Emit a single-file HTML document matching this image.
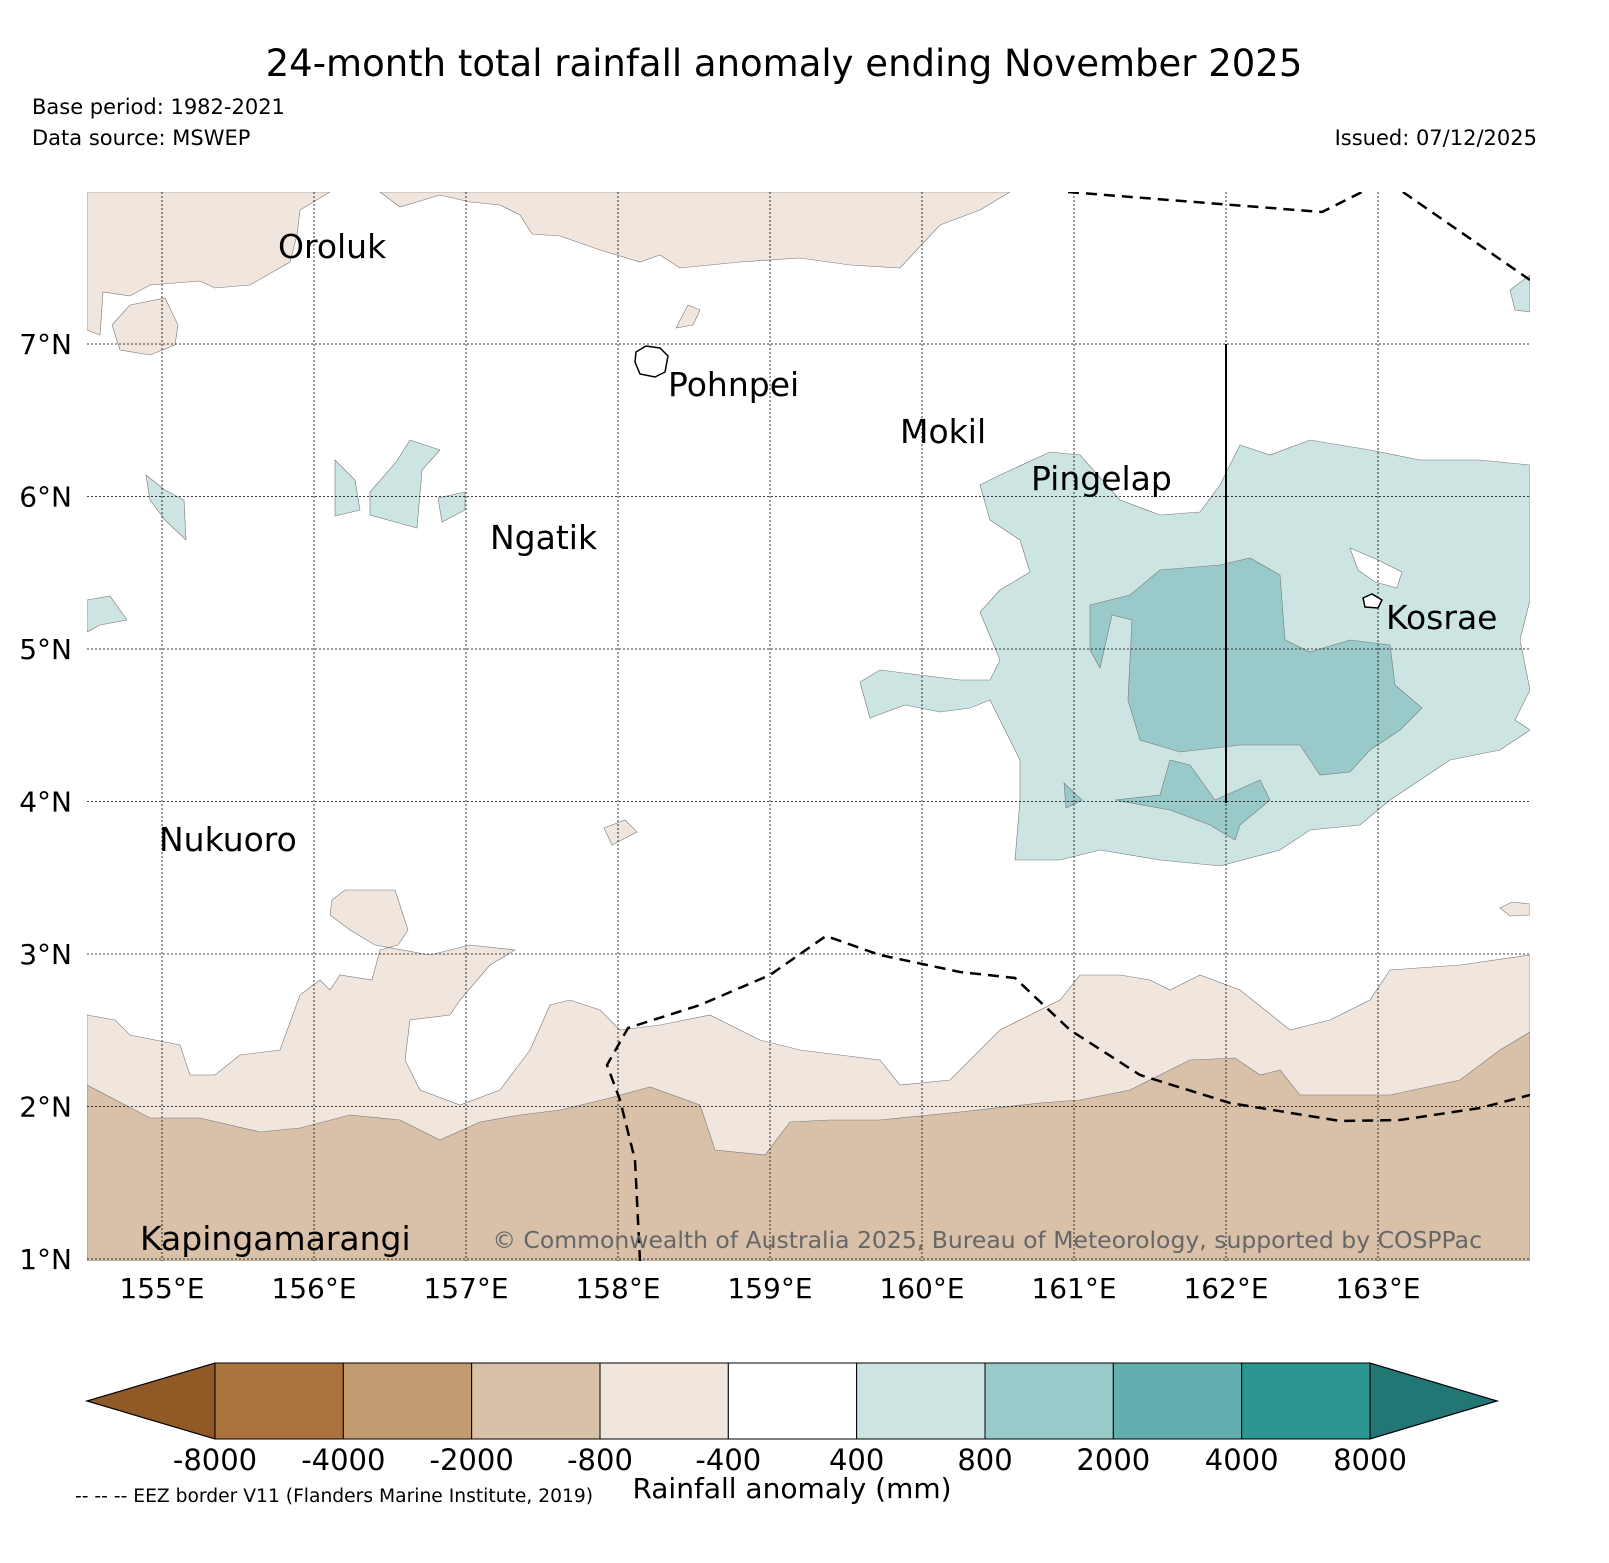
<!DOCTYPE html>
<html><head><meta charset="utf-8">
<style>
html,body{margin:0;padding:0;background:#fff;}
body{width:1609px;height:1563px;position:relative;overflow:hidden;font-family:"DejaVu Sans","Liberation Sans",sans-serif;}
svg{position:absolute;left:0;top:0;}
</style></head>
<body>
<svg id="chart" width="1609" height="1563" viewBox="0 0 1609 1563" font-family="DejaVu Sans, Liberation Sans, sans-serif">
<text x="784" y="76" font-size="37" text-anchor="middle">24-month total rainfall anomaly ending November 2025</text>
<text x="32" y="114" font-size="21">Base period: 1982-2021</text>
<text x="32" y="145" font-size="21">Data source: MSWEP</text>
<text x="1537" y="145" font-size="21" text-anchor="end">Issued: 07/12/2025</text>
<defs><clipPath id="mapclip"><rect x="87" y="192" width="1443" height="1069"/></clipPath></defs>
<g id="map" clip-path="url(#mapclip)">
<g stroke="#777" stroke-width="0.6">
<path fill="#f0e6de" d="M87,192 L87,330 L100,335 L103,292 L130,296 L150,285 L200,281 L215,288 L250,285 L290,262 L297,235 L300,210 L330,192 Z"/>
<path fill="#f0e6de" d="M380,192 L400,207 L440,195 L470,202 L500,205 L520,215 L532,234 L560,236 L600,250 L640,262 L660,255 L680,268 L740,262 L800,258 L850,265 L900,268 L940,225 L980,210 L1010,192 Z"/>
<path fill="#f0e6de" d="M112,325 L130,305 L165,298 L178,325 L175,345 L150,355 L120,350 Z"/>
<path fill="#f0e6de" d="M676,328 L688,305 L700,310 L693,325 Z"/>
<path fill="#f0e6de" d="M604,828 L625,820 L637,832 L612,845 Z"/>
<path fill="#f0e6de" d="M1500,908 L1512,902 L1530,904 L1530,915 L1510,916 Z"/>
<path fill="#f0e6de" d="M87,1015 L115,1020 L130,1035 L180,1045 L190,1075 L215,1075 L240,1055 L280,1050 L300,995 L320,980 L330,990 L340,975 L372,980 L380,950 L398,945 L408,930 L395,890 L345,890 L332,900 L330,915 L350,930 L375,945 L430,955 L470,945 L515,950 L490,965 L460,1000 L450,1015 L410,1020 L405,1060 L420,1090 L460,1105 L500,1090 L530,1050 L550,1005 L570,1000 L600,1010 L620,1030 L660,1025 L710,1015 L760,1040 L800,1050 L880,1060 L900,1085 L950,1080 L1000,1030 L1060,1000 L1080,975 L1120,975 L1150,980 L1170,990 L1200,975 L1240,990 L1290,1030 L1330,1020 L1370,1000 L1390,970 L1460,965 L1530,955 L1530,1261 L87,1261 Z"/>
<path fill="#d9c1a9" d="M87,1085 L150,1118 L200,1118 L260,1132 L300,1128 L350,1115 L400,1120 L440,1140 L480,1122 L520,1115 L560,1110 L610,1098 L650,1087 L700,1105 L715,1150 L765,1155 L790,1122 L830,1120 L880,1120 L960,1112 L1040,1103 L1080,1100 L1130,1090 L1190,1060 L1235,1058 L1260,1075 L1280,1070 L1300,1095 L1390,1095 L1460,1080 L1500,1050 L1530,1032 L1530,1261 L87,1261 Z"/>
<path fill="#cce5e3" d="M980,485 L1000,475 L1050,452 L1080,455 L1120,500 L1160,515 L1200,512 L1220,485 L1240,445 L1270,455 L1310,440 L1370,450 L1420,460 L1480,460 L1530,465 L1530,600 L1520,640 L1530,690 L1515,720 L1530,730 L1500,750 L1450,760 L1420,780 L1390,800 L1360,825 L1310,830 L1280,850 L1220,866 L1160,860 L1100,850 L1060,860 L1015,860 L1020,800 L1020,760 L1000,720 L990,700 L970,708 L940,712 L905,705 L870,718 L860,682 L880,670 L920,675 L960,680 L990,680 L1000,660 L980,612 L1000,590 L1030,572 L1020,540 L990,520 Z"/>
<path fill="#99cac9" d="M1090,605 L1130,595 L1160,570 L1220,565 L1250,558 L1280,575 L1285,640 L1310,652 L1350,640 L1390,645 L1395,685 L1422,708 L1400,730 L1370,750 L1350,772 L1320,775 L1300,745 L1240,745 L1180,752 L1140,740 L1128,700 L1132,620 L1112,615 L1100,668 L1090,650 Z"/>
<path fill="#99cac9" d="M1115,800 L1160,795 L1170,760 L1190,765 L1215,800 L1260,780 L1270,800 L1240,825 L1235,840 L1210,825 L1170,810 Z"/>
<path fill="#99cac9" d="M1064,783 L1082,800 L1066,808 Z"/>
<path fill="#fff" d="M1350,548 L1378,560 L1402,572 L1397,588 L1375,582 L1358,570 Z"/>
<path fill="#cce5e3" d="M146,475 L165,490 L184,500 L186,540 L165,520 L150,500 Z"/>
<path fill="#cce5e3" d="M335,460 L355,480 L360,510 L335,516 Z"/>
<path fill="#cce5e3" d="M370,492 L396,462 L410,440 L440,450 L422,470 L417,528 L395,522 L370,515 Z"/>
<path fill="#cce5e3" d="M438,498 L465,492 L465,510 L442,522 Z"/>
<path fill="#cce5e3" d="M87,600 L110,596 L127,620 L100,625 L87,632 Z"/>
<path fill="#cce5e3" d="M1510,290 L1530,275 L1530,312 L1515,310 Z"/>
</g>
<g id="grid"></g>
<path d="M1068,192 L1220,204 L1322,212 L1370,188 L1400,190 L1530,280" fill="none" stroke="#000" stroke-width="2.5" stroke-dasharray="11,7"/>
<path d="M640,1261 L635,1160 L620,1100 L607,1065 L628,1028 L700,1005 L770,975 L826,936 L880,955 L960,972 L1015,978 L1070,1030 L1140,1075 L1230,1103 L1340,1121 L1400,1120 L1480,1108 L1530,1095" fill="none" stroke="#000" stroke-width="2.5" stroke-dasharray="11,7"/>
<line x1="1226" y1="344" x2="1226" y2="803" stroke="#000" stroke-width="2"/>
<path d="M636,352 L646,346 L660,348 L668,356 L665,372 L655,377 L640,374 L635,362 Z" fill="#fff" stroke="#000" stroke-width="1.5"/>
<path d="M1363,598 L1372,594 L1382,600 L1378,608 L1365,607 Z" fill="#fff" stroke="#000" stroke-width="1.5"/>
<g font-size="33" fill="#000">
<text x="278" y="258">Oroluk</text>
<text x="668" y="396">Pohnpei</text>
<text x="900" y="443">Mokil</text>
<text x="1031" y="490">Pingelap</text>
<text x="490" y="549">Ngatik</text>
<text x="1386" y="629">Kosrae</text>
<text x="159" y="851">Nukuoro</text>
<text x="140" y="1250">Kapingamarangi</text>
</g>
<text x="1482" y="1248" font-size="23.5" fill="#666" text-anchor="end">© Commonwealth of Australia 2025, Bureau of Meteorology, supported by COSPPac</text>
</g>
<g id="ticks"></g>
<g id="cbar"></g>
<text x="792" y="1498" font-size="28" text-anchor="middle">Rainfall anomaly (mm)</text>
<text x="75" y="1502" font-size="18.7">-- -- -- EEZ border V11 (Flanders Marine Institute, 2019)</text>
</svg>
<script>
const lonTicks=[155,156,157,158,159,160,161,162,163];
const latTicks=[1,2,3,4,5,6,7];
const cbarBounds=[-8000,-4000,-2000,-800,-400,400,800,2000,4000,8000];
const cbarColors=["#ab743e","#c29a6f","#d9c1a9","#f0e6de","#ffffff","#cce5e3","#99cac9","#63aeae","#2e9692"];
const cbarExtendColors=["#8f5a26","#227674"];
const NS="http://www.w3.org/2000/svg";
const xLon=l=>162+(l-155)*152.0;
const yLat=l=>344+(7-l)*152.5;
function mk(tag,attrs,parent){const e=document.createElementNS(NS,tag);for(const k in attrs)e.setAttribute(k,attrs[k]);parent.appendChild(e);return e;}
const grid=document.getElementById('grid'),ticks=document.getElementById('ticks');
lonTicks.forEach(l=>{
  const g=mk('line',{x1:xLon(l),x2:xLon(l),y1:192,y2:1261,stroke:'#000','stroke-width':0.8,'stroke-dasharray':'2,2'},grid);
  
  
  const t=mk('text',{x:xLon(l),y:1298,'font-size':28,'text-anchor':'middle'},ticks);
  t.textContent=l+'°E';
  
  
});
latTicks.forEach(l=>{
  const g=mk('line',{x1:87,x2:1530,y1:yLat(l),y2:yLat(l),stroke:'#000','stroke-width':0.8,'stroke-dasharray':'2,2'},grid);
  
  
  const t=mk('text',{x:72,y:yLat(l)+10,'font-size':28,'text-anchor':'end'},ticks);
  t.textContent=l+'°N';
  
  
});
const cb=document.getElementById('cbar');
const cx0=215,cw=(1370-215)/cbarColors.length,cy0=1363,cy1=1439;
const lt=mk('polygon',{points:`87,${(cy0+cy1)/2} ${cx0},${cy0} ${cx0},${cy1}`,fill:cbarExtendColors[0],stroke:'#000','stroke-width':1.2},cb);


const rt=mk('polygon',{points:`1497,${(cy0+cy1)/2} 1370,${cy0} 1370,${cy1}`,fill:cbarExtendColors[1],stroke:'#000','stroke-width':1.2},cb);


cbarColors.forEach((c,i)=>{
  const r=mk('rect',{x:cx0+i*cw,y:cy0,width:cw,height:cy1-cy0,fill:c,stroke:'#000','stroke-width':1},cb);
  
  
});
cbarBounds.forEach((b,i)=>{
  const t=mk('text',{x:cx0+i*cw,y:1470,'font-size':29,'text-anchor':'middle'},cb);
  t.textContent=b;
  
  
});
</script>
</body></html>
